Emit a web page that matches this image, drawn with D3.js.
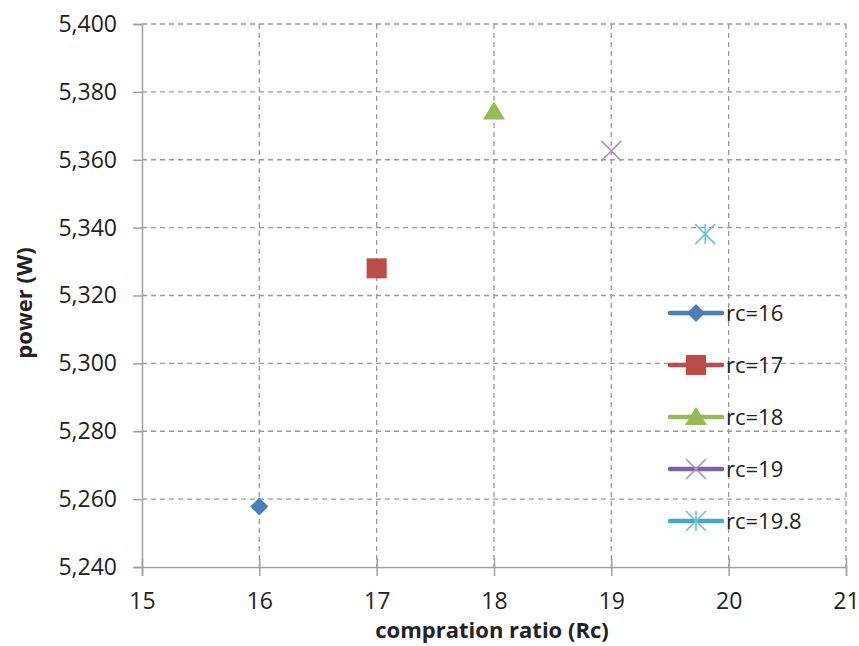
<!DOCTYPE html>
<html>
<head>
<meta charset="utf-8">
<script src="https://cdn.jsdelivr.net/npm/d3@7"></script>
<style>
  body { margin: 0; background: #fff; }
  svg text { font-family: "Open Sans", Lato, sans-serif; fill: #222; }
</style>
</head>
<body>
<div id="chart"></div>
<script>
// chart data
var seriesNames = ['rc=16', 'rc=17', 'rc=18', 'rc=19', 'rc=19.8'];
var ratioValues = [16, 17, 18, 19, 19.8];
var powerValues = [5257.8, 5328, 5374.2, 5362.6, 5338.1];
var xTicks = [15, 16, 17, 18, 19, 20, 21];
var yTicks = [5240, 5260, 5280, 5300, 5320, 5340, 5360, 5380, 5400];

var seriesColors = ['#4a7ebb', '#be4b48', '#98b954', '#7d60a0', '#46aac5'];
var markerColors = ['#4a7ebb', '#be4b48', '#98b954', '#a992c8', '#6cc3dc'];
var markerTypes = ['diamond', 'square', 'triangle', 'cross', 'star'];

var width = 859, height = 646;
var plot = { left: 142, right: 846, top: 24, bottom: 567 };

var svg = d3.select('#chart').append('svg').attr('width', width).attr('height', height);

var x = d3.scaleLinear().domain([15, 21]).range([plot.left, plot.right]);
var y = d3.scaleLinear().domain([5240, 5400]).range([plot.bottom, plot.top]);

// grid
var grid = svg.append('g');
grid.selectAll('line.gx').data(xTicks.slice(1)).enter().append('line')
  .attr('x1', function(d) { return x(d); }).attr('x2', function(d) { return x(d); })
  .attr('y1', plot.top).attr('y2', plot.bottom)
  .attr('stroke', '#999').attr('stroke-width', 1.3).attr('stroke-dasharray', '5,4');
grid.selectAll('line.gy').data(yTicks.slice(1)).enter().append('line')
  .attr('x1', plot.left).attr('x2', plot.right)
  .attr('y1', function(d) { return y(d); }).attr('y2', function(d) { return y(d); })
  .attr('stroke', '#999').attr('stroke-width', 1.3).attr('stroke-dasharray', '5,4');

// axes
var yAxis = svg.append('g').attr('transform', 'translate(' + plot.left + ',0)')
  .call(d3.axisLeft(y).tickValues(yTicks).tickSize(9).tickPadding(16).tickFormat(d3.format(',')));
var xAxis = svg.append('g').attr('transform', 'translate(0,' + plot.bottom + ')')
  .call(d3.axisBottom(x).tickValues(xTicks).tickSize(9).tickPadding(17).tickFormat(d3.format('d')));
xAxis.selectAll('.tick line').attr('y1', -9);
[xAxis, yAxis].forEach(function(a) {
  a.select('.domain').attr('stroke', '#a0a0a0').attr('stroke-width', 1.5);
  a.selectAll('.tick line').attr('stroke', '#a0a0a0').attr('stroke-width', 1.5);
  a.selectAll('.tick text').style('font-size', '23px').attr('fill', '#222');
});

// axis titles
svg.append('text').attr('x', 492).attr('y', 638)
  .attr('text-anchor', 'middle').style('font-size', '22px').style('font-weight', 'bold')
  .text('compration ratio (Rc)');
svg.append('text').attr('transform', 'translate(32,303) rotate(-90)')
  .attr('text-anchor', 'middle').style('font-size', '22px').style('font-weight', 'bold')
  .text('power (W)');

function drawMarker(g, type, color, s) {
  if (type === 'diamond') {
    g.append('path').attr('d', 'M0,' + (-s) + 'L' + s + ',0L0,' + s + 'L' + (-s) + ',0Z').attr('fill', color);
  } else if (type === 'square') {
    g.append('rect').attr('x', -s).attr('y', -s).attr('width', 2 * s).attr('height', 2 * s).attr('fill', color);
  } else if (type === 'triangle') {
    g.append('path').attr('d', 'M0,' + (-s) + 'L' + (s * 1.1) + ',' + (s * 0.8) + 'L' + (-s * 1.1) + ',' + (s * 0.8) + 'Z').attr('fill', color);
  } else if (type === 'cross') {
    g.append('path').attr('d', 'M' + (-s) + ',' + (-s) + 'L' + s + ',' + s + 'M' + s + ',' + (-s) + 'L' + (-s) + ',' + s)
      .attr('stroke', color).attr('stroke-width', 1.6).attr('fill', 'none');
  } else if (type === 'star') {
    g.append('path').attr('d', 'M' + (-s) + ',' + (-s) + 'L' + s + ',' + s + 'M' + s + ',' + (-s) + 'L' + (-s) + ',' + s + 'M0,' + (-s) + 'L0,' + s)
      .attr('stroke', color).attr('stroke-width', 1.6).attr('fill', 'none');
  }
}

var sizes = [9, 10, 10, 10, 10];

// points
seriesNames.forEach(function(name, i) {
  var g = svg.append('g').attr('transform', 'translate(' + x(ratioValues[i]) + ',' + y(powerValues[i]) + ')');
  drawMarker(g, markerTypes[i], markerColors[i], sizes[i]);
});

// legend
var legendX = 668, legendY = 313, legendStep = 52;
seriesNames.forEach(function(name, i) {
  var ly = legendY + i * legendStep;
  var g = svg.append('g');
  g.append('line').attr('x1', legendX + 2).attr('x2', legendX + 54).attr('y1', ly).attr('y2', ly)
    .attr('stroke', seriesColors[i]).attr('stroke-width', 4.5).attr('stroke-linecap', 'round');
  var m = g.append('g').attr('transform', 'translate(' + (legendX + 28) + ',' + ly + ')');
  drawMarker(m, markerTypes[i], markerColors[i], sizes[i]);
  g.append('text').attr('x', legendX + 58).attr('y', ly + 8).style('font-size', '22px').text(name);
});
</script>
</body>
</html>
